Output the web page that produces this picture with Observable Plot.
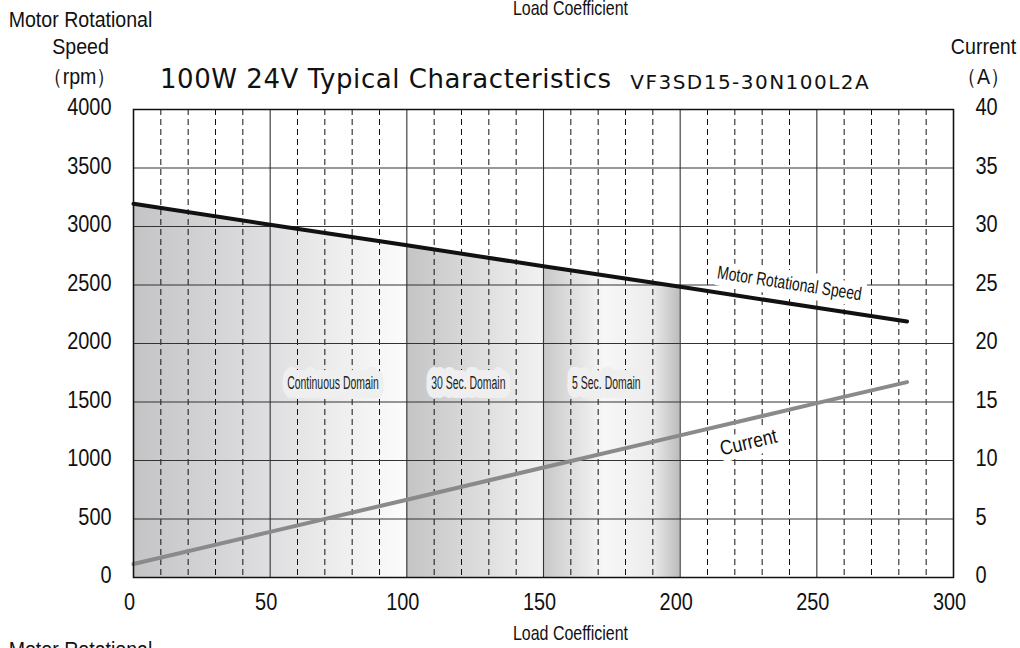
<!DOCTYPE html>
<html><head><meta charset="utf-8">
<script src="https://cdn.jsdelivr.net/npm/d3@7"></script>
<script src="https://cdn.jsdelivr.net/npm/@observablehq/plot@0.6"></script>
<style>
html,body{margin:0;padding:0;background:#fff;}
svg{display:block;}
</style></head><body><div id="chart"></div>
<script>
// ---- data ----
const loadCoef   = [0, 50, 100, 150, 200, 250, 283];
const speedRpm   = [3195, 3015, 2840, 2660, 2485, 2305, 2188];
const currentAmp = [1.15, 3.9, 6.65, 9.4, 12.15, 14.9, 16.7];

const xTicks = [0, 50, 100, 150, 200, 250, 300];
const xMinor = [10,20,30,40,60,70,80,90,110,120,130,140,160,170,180,190,210,220,230,240,260,270,280,290];
const speedTicks = [0, 500, 1000, 1500, 2000, 2500, 3000, 3500, 4000];
const currentTicks = [0, 5, 10, 15, 20, 25, 30, 35, 40];

const domainNames = ["Continuous Domain", "30 Sec. Domain", "5 Sec. Domain"];
const domainStart = [0, 100, 150];
const domainEnd   = [100, 150, 200];
const domainLabelLoad = [73, 122.5, 173];
const domainLabelRpm  = [1660, 1660, 1660];

const lineLabelNames = ["Motor Rotational Speed", "Current"];
const lineLabelLoad  = [240, 225];
const lineLabelRpm   = [2513, 1154];
const lineLabelAngle = [8.7, -13.2];

const titleText = "100W 24V Typical Characteristics";
const modelText = "VF3SD15-30N100L2A";
const xLabel = "Load Coefficient";
const yLeftLabel = ["Motor Rotational", "Speed", "（rpm）"];
const yRightLabel = ["Current", "（A）"];

// ---- derived tables ----
const ampToRpm = speedTicks[speedTicks.length - 1] / currentTicks[currentTicks.length - 1];
const rows = loadCoef.map((l, i) => ({load: l, speed: speedRpm[i], current: currentAmp[i]}));
const domainRows = domainNames.map((n, i) => ({name: n, x: domainLabelLoad[i], y: domainLabelRpm[i]}));
const speedLabelRow = [{name: lineLabelNames[0], x: lineLabelLoad[0], y: lineLabelRpm[0]}];
const currentLabelRow = [{name: lineLabelNames[1], x: lineLabelLoad[1], y: lineLabelRpm[1]}];

const narrow = "'Liberation Sans',Arial,sans-serif";
const wide = "'DejaVu Sans',sans-serif";

const txt = (s, dx, dy, opts = {}) => Plot.text([s], {frameAnchor: "top-left", dx, dy, text: d => d,
  textAnchor: "middle", lineAnchor: "middle", fontSize: 22, fontFamily: narrow, fill: "#111", ...opts});

const chart = Plot.plot({
  width: 1020, height: 648,
  marginLeft: 133, marginRight: 67, marginTop: 109, marginBottom: 71,
  style: {fontFamily: narrow, background: "white"},
  x: {domain: [0, 300], label: null},
  y: {domain: [0, 4000], label: null},
  marks: [
    ...domainNames.map((n, i) => Plot.areaY(rows.filter(r => r.load >= domainStart[i] && r.load <= domainEnd[i]),
      {x: "load", y: "speed", fill: `url(#grad${i})`})),
    Plot.ruleX(xMinor, {stroke: "#111", strokeWidth: 1, strokeDasharray: "6,4"}),
    Plot.ruleX(xTicks, {stroke: "#333", strokeWidth: 1.1}),
    Plot.ruleY(speedTicks, {stroke: "#333", strokeWidth: 1.1}),
    Plot.text(domainRows, {x: "x", y: "y", text: "name", fill: "#efefef", stroke: "#efefef", strokeWidth: 18,
      strokeLinejoin: "round", fontSize: 18, fontFamily: narrow}),
    Plot.text(speedLabelRow, {x: "x", y: "y", text: "name", rotate: lineLabelAngle[0], fill: "white", stroke: "white",
      strokeWidth: 14, fontSize: 18.5, fontFamily: narrow}),
    Plot.text(currentLabelRow, {x: "x", y: "y", text: "name", rotate: lineLabelAngle[1], fill: "white", stroke: "white",
      strokeWidth: 14, fontSize: 20.5, fontFamily: narrow}),
    Plot.line(rows, {x: "load", y: "speed", stroke: "#111", strokeWidth: 4}),
    Plot.line(rows, {x: "load", y: d => d.current * ampToRpm, stroke: "#8a8a8a", strokeWidth: 4}),
    Plot.text(domainRows, {x: "x", y: "y", text: "name", fill: "#222", fontSize: 18, fontFamily: narrow}),
    Plot.text(speedLabelRow, {x: "x", y: "y", text: "name", rotate: lineLabelAngle[0], fill: "#111", fontSize: 18.5, fontFamily: narrow}),
    Plot.text(currentLabelRow, {x: "x", y: "y", text: "name", rotate: lineLabelAngle[1], fill: "#111", fontSize: 20.5, fontFamily: narrow}),
    Plot.frame({stroke: "#111", strokeWidth: 1.5}),
    Plot.axisX({ticks: xTicks, tickSize: 0, tickPadding: 15, fontSize: 24, fill: "#111", label: null, tickFormat: d => String(d), dx: -4}),
    Plot.axisY({ticks: speedTicks, anchor: "left", tickSize: 0, tickPadding: 22, fontSize: 24, fill: "#111", label: null, tickFormat: d => String(d), dy: -2}),
    Plot.axisY({ticks: speedTicks, anchor: "right", tickSize: 0, tickPadding: 22, fontSize: 24, fill: "#111", label: null, tickFormat: d => String(d / ampToRpm), dy: -2}),
    txt(yLeftLabel[0], -53, -90),
    txt(yLeftLabel[1], -53, -63),
    txt(yLeftLabel[2], -54, -33),
    txt(yRightLabel[0], 850, -63),
    txt(yRightLabel[1], 850, -33),
    txt(titleText, 252, -30, {fontFamily: wide, fontSize: 26}),
    txt(modelText, 616, -27, {fontFamily: wide, fontSize: 20}),
    txt(xLabel, 437, -101, {fontSize: 21}),
    txt(xLabel, 437, 524, {fontSize: 21}),
    txt(yLeftLabel[0], -53, 540)
  ]
});

const defs = d3.select(chart).insert("defs", ":first-child");
const gradStops = [
  [[0, "#c4c4c6"], [0.45, "#dcdcde"], [1, "#fcfcfc"]],
  [[0, "#c4c4c4"], [1, "#f2f2f2"]],
  [[0, "#c8c8c8"], [0.45, "#f7f7f7"], [0.8, "#ececec"], [1, "#bcbcbc"]]
];
gradStops.forEach((stops, i) => {
  const g = defs.append("linearGradient").attr("id", `grad${i}`).attr("x1", 0).attr("x2", 1).attr("y1", 0).attr("y2", 0);
  stops.forEach(([o, c]) => g.append("stop").attr("offset", o).attr("stop-color", c));
});
document.getElementById("chart").appendChild(chart);

// condensed / widened lettering to match the reference typefaces (keyed by font size)
const fit = {24: [0.83, "spacingAndGlyphs"], 22: [0.89, "spacingAndGlyphs"], 21: [0.76, "spacingAndGlyphs"],
  18: [0.58, "spacingAndGlyphs"], 18.5: [0.75, "spacingAndGlyphs"], 20.5: [0.85, "spacingAndGlyphs"],
  26: [1.04, "spacing"], 20: [1.11, "spacing"]};
chart.querySelectorAll("text").forEach(t => {
  const el = t.closest("[font-size]");
  if (!el) return;
  const c = fit[parseFloat(el.getAttribute("font-size"))];
  if (!c) return;
  const len = t.getComputedTextLength();
  t.setAttribute("textLength", (len * c[0]).toFixed(1));
  t.setAttribute("lengthAdjust", c[1]);
});
</script>
</body></html>
